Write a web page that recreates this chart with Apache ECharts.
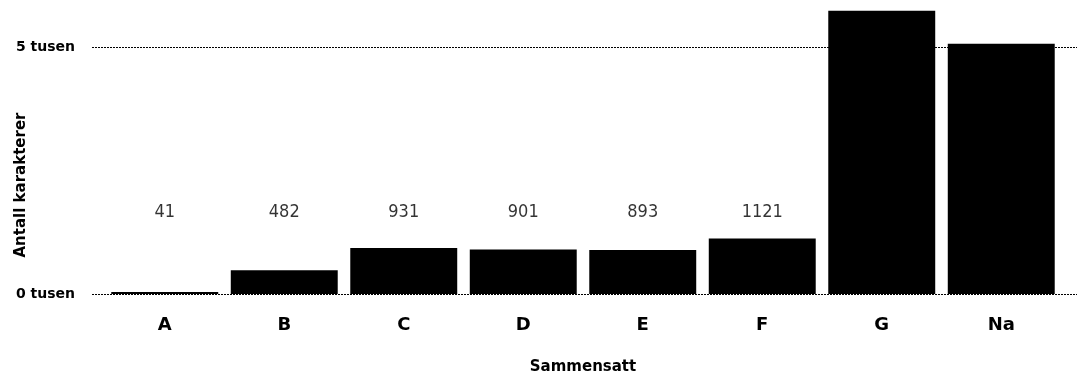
<!DOCTYPE html>
<html>
<head>
<meta charset="utf-8">
<script src="https://cdn.jsdelivr.net/npm/echarts@6/dist/echarts.min.js"></script>
<style>
  html, body { margin: 0; padding: 0; background: #fff; }
  #chart { width: 1082px; height: 376px; }
</style>
</head>
<body>
<div id="chart"></div>
<script>
  // data
  const categories = ['A', 'B', 'C', 'D', 'E', 'F', 'G', 'Na']
  const values = [41, 482, 931, 901, 893, 1121, 5730, 5065]
  const labelled = [true, true, true, true, true, true, false, false]
  const gridLines = [0, 5000]

  const yMax = 5950
  const labelLevel = 1660 // height the number labels sit at

  const boldFont = '"DejaVu Sans", sans-serif'
  const numFont = '"Liberation Sans Narrow", "DejaVu Sans Condensed", "Roboto Condensed", sans-serif'

  const chart = echarts.init(document.getElementById('chart'))
  const options = {
    animation: false,
    grid: [
      // bars
      { left: 105, right: 21, top: 0, bottom: 82, outerBoundsMode: 'none' },
      // full width dotted lines + y labels
      { left: 92, right: 5, top: 0, bottom: 82, outerBoundsMode: 'none' }
    ],
    xAxis: [
      {
        type: 'category',
        gridIndex: 0,
        data: categories,
        axisLine: { show: false },
        axisTick: { show: false },
        axisLabel: {
          margin: 22,
          color: '#000',
          fontFamily: boldFont,
          fontWeight: 'bold',
          fontSize: 18
        },
        name: 'Sammensatt',
        nameLocation: 'middle',
        nameGap: 66,
        nameMoveOverlap: false,
        nameTextStyle: {
          color: '#000',
          fontFamily: boldFont,
          fontWeight: 'bold',
          fontSize: 15
        }
      },
      {
        type: 'category',
        gridIndex: 1,
        data: ['x'],
        show: false
      }
    ],
    yAxis: [
      {
        type: 'value',
        gridIndex: 0,
        min: 0,
        max: yMax,
        show: false
      },
      {
        type: 'value',
        gridIndex: 1,
        min: 0,
        max: yMax,
        interval: 5000,
        axisLine: { show: false },
        axisTick: { show: false },
        splitLine: { show: false },
        axisLabel: {
          margin: 17,
          color: '#000',
          fontFamily: boldFont,
          fontWeight: 'bold',
          fontSize: 14,
          formatter: function(v) {
            return gridLines.indexOf(v) > -1 ? (v / 1000) + ' tusen' : ''
          }
        },
        name: 'Antall karakterer',
        nameLocation: 'middle',
        nameGap: 63,
        nameMoveOverlap: false,
        nameTextStyle: {
          color: '#000',
          fontFamily: boldFont,
          fontWeight: 'bold',
          fontSize: 15,
          padding: [0, 76, 0, 0]
        }
      }
    ],
    series: [
      {
        type: 'line',
        xAxisIndex: 1,
        yAxisIndex: 1,
        data: [],
        silent: true,
        z: 1,
        markLine: {
          symbol: 'none',
          silent: true,
          label: { show: false },
          lineStyle: { color: '#000', width: 1, type: [2, 1] },
          data: gridLines.map(v => ({ yAxis: v }))
        }
      },
      {
        type: 'bar',
        xAxisIndex: 0,
        yAxisIndex: 0,
        data: values,
        barCategoryGap: '10.5%',
        z: 3,
        itemStyle: { color: '#000' }
      },
      {
        // number labels at a fixed height above the bars
        type: 'scatter',
        xAxisIndex: 0,
        yAxisIndex: 0,
        symbolSize: 0,
        data: values.map((v, i) => labelled[i] ? [i, labelLevel, v] : null).filter(d => d),
        label: {
          show: true,
          position: 'inside',
          color: '#000',
          fontFamily: numFont,
          fontSize: 18,
          formatter: p => p.data[2]
        }
      }
    ]
  }
  chart.setOption(options)
</script>
</body>
</html>
